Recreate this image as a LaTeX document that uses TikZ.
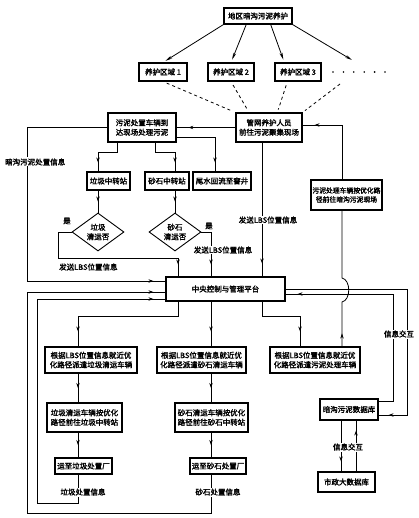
\documentclass[tikz,border=0pt]{standalone}
\usepackage{fontspec}
\setmainfont{Noto Sans CJK SC}[FakeBold=2]
\usetikzlibrary{shapes.geometric,calc,arrows.meta,decorations.markings}

\begin{document}
\begin{tikzpicture}[x=1pt,y=-1pt,>={Stealth[length=7pt,width=3pt]},
  midarr/.style={postaction={decorate},decoration={markings,mark=at position #1 with {\arrow{Stealth[length=5pt,width=3.4pt]}}}},
  midarr/.default=0.5]
\tikzstyle{box}=[draw,line width=1.1pt,inner sep=1.5pt,align=center,font=\fontsize{7.5}{9.5}\selectfont]
\tikzstyle{ask}=[diamond,draw,line width=0.9pt,inner sep=0pt,aspect=1.4,minimum width=52pt,minimum height=38pt,align=center,font=\fontsize{7.5}{9.5}\selectfont]
\tikzstyle{lbl}=[fill=white,inner sep=1pt,font=\fontsize{7.5}{9.5}\selectfont]
\tikzstyle{link}=[line width=0.8pt]
\useasboundingbox (0,0) rectangle (418,518);

\node[box,minimum width=68pt,minimum height=16pt] (top) at (258,16) {地区暗沟污泥养护};
\node[box,minimum width=48pt,minimum height=18pt] (r1) at (163,72) {养护区域 1};
\node[box,minimum width=46pt,minimum height=18pt] (r2) at (231,72) {养护区域 2};
\node[box,minimum width=46pt,minimum height=18pt] (r3) at (298,72) {养护区域 3};
\foreach \i in {0,...,5} \fill (333+10.4*\i,72) circle (0.9);
\coordinate (etc) at (352,60);
\coordinate (etc2) at (340,84);

\node[box,minimum width=66pt,minimum height=29pt] (mg) at (269,127.5) {管网养护人员\\前往污泥聚集现场};
\node[box,minimum width=68pt,minimum height=29pt] (wn) at (142,127.5) {污泥处置车辆到\\达现场处理污泥};
\node[box,minimum width=43pt,minimum height=18pt] (lj) at (108.5,181) {垃圾中转站};
\node[box,minimum width=44pt,minimum height=18pt] (ss) at (167,181) {砂石中转站};
\node[box,minimum width=58pt,minimum height=18pt] (wj) at (222,181) {尾水回流至窨井};
\node[box,minimum width=71pt,minimum height=30pt,font=\fontsize{6.8}{9}\selectfont] (cl) at (346.5,195) {污泥处理车辆按优化路\\径前往暗沟污泥现场};
\node[ask] (dj) at (98,232) {垃圾\\清运否};
\node[ask] (ds) at (175,232) {砂石\\清运否};
\node[lbl] (y1) at (67,221) {是};
\node[lbl] (y2) at (209,226) {是};
\node[box,minimum width=119pt,minimum height=24pt] (pt) at (225.5,289) {中央控制与管理平台};
\node[box,minimum width=92pt,minimum height=26pt] (g1) at (91,360) {根据LBS位置信息就近优\\化路径派遣垃圾清运车辆};
\node[box,minimum width=89pt,minimum height=26pt] (g2) at (201.5,360) {根据LBS位置信息就近优\\化路径派遣砂石清运车辆};
\node[box,minimum width=90pt,minimum height=26pt] (g3) at (315,360) {根据LBS位置信息就近优\\化路径派遣污泥处理车辆};
\node[box,minimum width=75pt,minimum height=29pt] (h1) at (84.5,417.5) {垃圾清运车辆按优化\\路径前往垃圾中转站};
\node[box,minimum width=73pt,minimum height=29pt] (h2) at (211.5,417.5) {砂石清运车辆按优化\\路径前往砂石中转站};
\node[box,minimum width=57pt,minimum height=16pt] (q1) at (83.5,466) {运至垃圾处置厂};
\node[box,minimum width=56pt,minimum height=16pt] (q2) at (218,466) {运至砂石处置厂};
\node[box,minimum width=58pt,minimum height=21pt] (db) at (349,409.5) {暗沟污泥数据库};
\node[box,minimum width=57pt,minimum height=20pt] (sz) at (346.5,482) {市政大数据库};

\coordinate (lt1) at (27,281);
\coordinate (lb1) at (27,513);
\coordinate (lb2) at (37,503);
\coordinate (oc) at (407,415);
\coordinate (ic) at (393,401);
\coordinate (hop) at (342,302);

\draw[->,link,shorten >=3pt] (top.south west) -- (r1.north);
\draw[->,link,shorten >=3pt] (top.-144) -- (r2.north);
\draw[->,link,shorten >=3pt] (top.-34) -- (r3.145);
\draw[->,link] (top.south east) -- (etc);
\draw[link,dash pattern=on 3pt off 3pt,shorten <=4pt,shorten >=3pt] (r1.south) -- (mg.north west);
\draw[link,dash pattern=on 3pt off 3pt,shorten <=4pt,shorten >=3pt] (r2.south) -- (mg.143);
\draw[link,dash pattern=on 3pt off 3pt,shorten <=4pt,shorten >=3pt] (r3.-138) -- (mg.61);
\draw[link,dash pattern=on 3pt off 3pt,shorten >=3pt] (etc2) -- (mg.north east);

\draw[link,midarr=0.8] (mg) -- (wn);
\draw[link,midarr=-12pt] ($(cl.north)+(-4.5,0)$) |- ($(mg.east)+(0,-2.5)$);
\draw[link,midarr=-12pt] (wn.west) -| (lt1) -- (lt1 -| pt.west);
\draw[link,midarr=-9pt] (wn.-149) -- ++(0,10) -| ($(lj.north)+(-10.5,0)$);
\draw[link,midarr=-9pt] (wn.-48) -- ++(0,10) -| ($(ss.north)+(8,0)$);
\draw[link,midarr=-9pt] ($(wn.east)+(0,9.5)$) -| ($(wj.north)+(-7,0)$);
\draw[link,midarr] (lj.south -| dj.north) -- (dj.north);
\draw[link,midarr] (ss.south -| ds.north) -- (ds.north);
\draw[link,midarr=-12pt] (dj.west) -- ++(-13,0) -- ++(0,26) -| ($(pt.north)+(-47.5,0)$);
\draw[link,midarr=-12pt] (ds.east) -| ($(pt.north)+(-14.5,0)$);
\draw[link,midarr=-13pt] ($(mg.south)+(-7,0)$) -- ($(pt.north)+(36.5,0)$);

\draw[link,midarr=-15pt] ($(pt.south)+(-47.5,0)$) -- ++(0,15) -| ($(g1.north)+(-13,0)$);
\draw[link,midarr=-15pt] ($(pt.south)+(-14.5,0)$) -- ($(g2.north)+(9.5,0)$);
\draw[link,midarr=-15pt] ($(pt.south)+(36.5,0)$) -- ++(0,15) -| ($(g3.north)+(-15,0)$);
\draw[link,midarr=13pt] ($(g3.north)+(27,0)$) -- (hop) .. controls +(9,-2) and +(9,2) .. ($(hop)+(0,-24)$) -- ($(cl.south)+(-4.5,0)$);
\draw[link,midarr=-10pt] (pt.east) -| (oc) -- (oc -| db.east);
\draw[link,midarr=-12pt] (ic -| db.east) -- (ic) |- ($(pt.east)+(0,5)$);
\draw[link,midarr=-10pt] ($(db.south)+(-8,0)$) -- ($(sz.north)+(-5.5,0)$);
\draw[link,midarr=-10pt] ($(sz.north)+(9.5,0)$) -- ($(db.south)+(7,0)$);

\draw[link,midarr] ($(g1.south)+(-13,0)$) -- ($(h1.north)+(-6.5,0)$);
\draw[link,midarr] ($(h1.south)+(-6.5,0)$) -- ($(q1.north)+(-5.5,0)$);
\draw[link,midarr] ($(g2.south)+(9.5,0)$) -- ($(h2.north)+(-0.5,0)$);
\draw[link,midarr] ($(h2.south)+(-0.5,0)$) -- ($(q2.north)+(-7,0)$);
\draw[link,midarr=-12pt] ($(q1.south)+(-5.5,0)$) |- (lb2) |- ($(pt.west)+(0,10)$);
\draw[link,midarr=-12pt] ($(q2.south)+(-7,0)$) |- (lb1) |- ($(pt.west)+(0,3)$);

\node[lbl,anchor=west] (t1) at (4,162) {暗沟污泥处置信息};
\node[lbl,anchor=west] (t2) at (58,267) {发送LBS位置信息};
\node[lbl] (t3) at (223,250) {发送LBS位置信息};
\node[lbl] (t4) at (268,220) {发送LBS位置信息};
\node[lbl] (t5) at (399,334) {信息交互};
\node[lbl] (t6) at (348,447) {信息交互};
\node[lbl] (t7) at (83,492) {垃圾处置信息};
\node[lbl] (t8) at (218,492) {砂石处置信息};
\end{tikzpicture}
\end{document}
